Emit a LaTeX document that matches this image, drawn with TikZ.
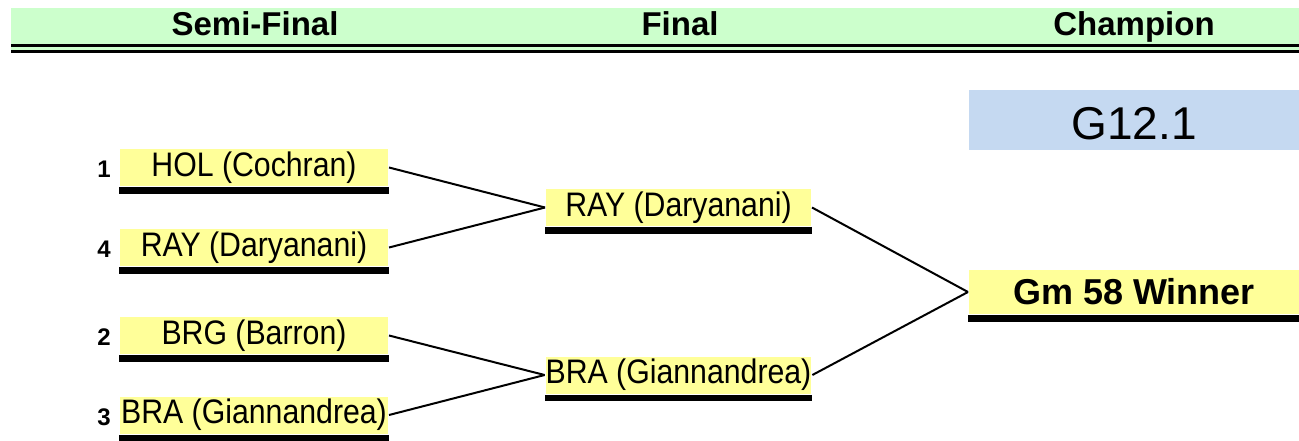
\documentclass[tikz,border=0pt]{standalone}
\usepackage{fontspec}
\setmainfont{Liberation Sans}
\newfontfamily\teamfont[FakeStretch=0.89]{Liberation Sans}

\definecolor{headgreen}{RGB}{204,255,204}
\definecolor{teamyellow}{RGB}{255,255,153}
\definecolor{gameblue}{RGB}{197,217,241}

\tikzset{
    team/.style={fill=teamyellow, inner sep=0pt, minimum height=37pt,
                 font=\teamfont\fontsize{34}{36}\selectfont},
    semi/.style={team, minimum width=268pt},
    final/.style={team, minimum width=265pt},
    seed/.style={anchor=east, font=\bfseries\fontsize{24}{26}\selectfont},
    heading/.style={anchor=base, font=\bfseries\fontsize{33}{36}\selectfont},
}

\begin{document}
\begin{tikzpicture}[x=1pt, y=-1pt, line width=2pt]
        \useasboundingbox (0,0) rectangle (1299,440);
        % header band
        \fill[headgreen] (11,8)  rectangle (1299,50);
        \fill            (11,44) rectangle (1299,47);
        \fill            (11,50) rectangle (1299,53);
        \node[heading] (hsemi)  at (255,35)  {Semi-Final};
        \node[heading] (hfinal) at (680,35)  {Final};
        \node[heading] (hchamp) at (1134,35) {Champion};
        % semi-final
        \node[semi] (s1) at (254,167.5) {HOL (Cochran)};
        \node[semi] (s4) at (254,247.5) {RAY (Daryanani)};
        \node[semi] (s2) at (254,335.5) {BRG (Barron)};
        \node[semi] (s3) at (254,415)   {BRA (Giannandrea)};
        \node[seed] (seed1) at (115,169) {1};
        \node[seed] (seed4) at (115,249) {4};
        \node[seed] (seed2) at (115,337) {2};
        \node[seed] (seed3) at (115,417) {3};
        % final
        \node[final] (f1) at (678.5,207.5) {RAY (Daryanani)};
        \node[final] (f2) at (678.5,375)   {BRA (Giannandrea)};
        % champion
        \node[fill=gameblue, inner sep=0pt, minimum width=330pt, minimum height=60pt,
              text height=39pt, font=\fontsize{46}{50}\selectfont] (game) at (1134,120) {G12.1};
        \node[team, minimum width=330pt, minimum height=44pt,
              font=\bfseries\fontsize{36}{40}\selectfont] (champ) at (1134,292) {Gm 58 Winner};
        % bars under the boxes
        \foreach \n in {s1,s4,s2,s3,f1,f2}
            \fill (\n.south west) rectangle ([yshift=-6.5pt]\n.south east);
        \fill (champ.south west) rectangle ([yshift=-7pt]champ.south east);
        % bracket lines
        \draw (s1.east) -- (f1.west);
        \draw (s4.east) -- (f1.west);
        \draw (s2.east) -- (f2.west);
        \draw (s3.east) -- (f2.west);
        \draw (f1.east) -- (champ.west);
        \draw (f2.east) -- (champ.west);
\end{tikzpicture}
\end{document}
